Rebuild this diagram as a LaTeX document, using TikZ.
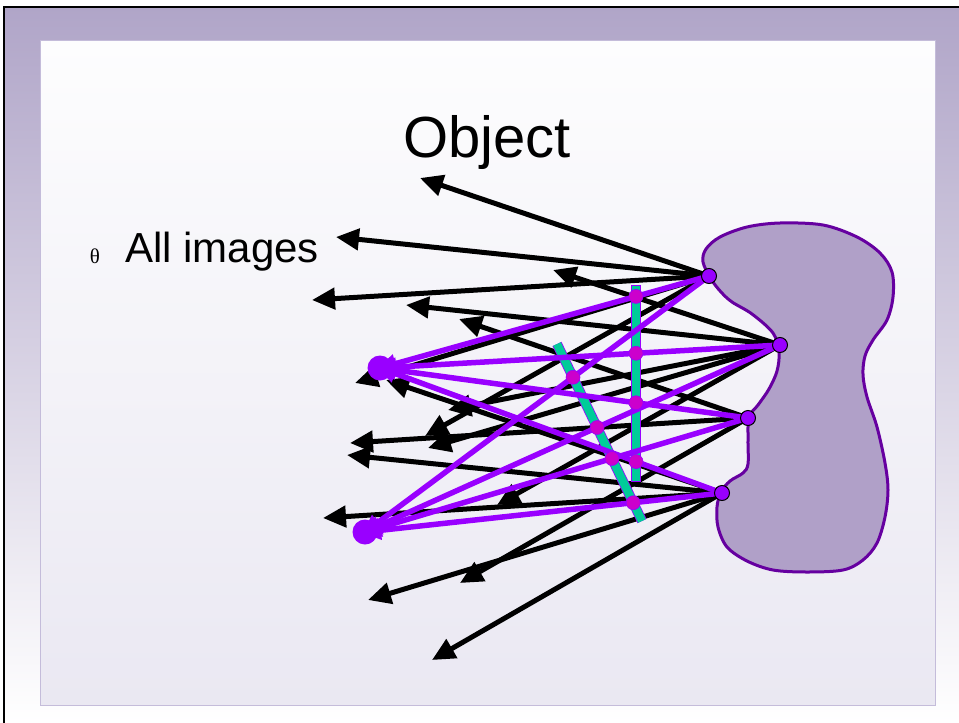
\documentclass[tikz,border=0pt]{standalone}
\usepackage{fontspec}
\setmainfont{Liberation Sans}
\newfontfamily\symfont{Liberation Serif}
\usetikzlibrary{arrows.meta}

\definecolor{bandtop}{RGB}{176,165,200}
\definecolor{paneltop}{RGB}{253,253,254}
\definecolor{panelbot}{RGB}{234,232,242}
\definecolor{panelline}{RGB}{196,188,218}
\definecolor{blobfill}{RGB}{176,160,200}
\definecolor{blobline}{RGB}{102,0,160}
\definecolor{ray}{RGB}{153,0,255}
\definecolor{lens}{RGB}{0,204,153}
\definecolor{hit}{RGB}{204,0,204}

\tikzset{
  blackray/.style={draw=black, line width=5pt, -{Triangle[length=23pt,width=21pt]}},
  purpleray/.style={draw=ray, line width=5.5pt, -{Triangle[length=20pt,width=18pt]}, shorten >=-4pt},
  srcdot/.style={circle, fill=ray, draw=black, line width=1pt, minimum size=15pt, inner sep=0pt},
  imgdot/.style={circle, fill=ray, minimum size=25pt, inner sep=0pt},
  hitdot/.style={circle, fill=hit, draw=ray, line width=0.6pt, minimum size=14pt, inner sep=0pt},
}

\begin{document}
\begin{tikzpicture}[x=1pt, y=-1pt]
  % page background and frame
  \useasboundingbox (0,0) rectangle (959,723);
  \fill[white] (0,0) rectangle (959,723);
  \shade[top color=bandtop, bottom color=white] (4,7) rectangle (959,723);
  \draw[black, line width=2.5pt] (4,723) -- (4,7) -- (959,7);
  \shade[top color=paneltop, bottom color=panelbot, draw=panelline, line width=1pt]
    (40,40) rectangle (935,705);

  % the object
  \draw[blobline, fill=blobfill, line width=3pt] plot[smooth cycle, tension=0.55] coordinates {
    (711,279) (703,262) (706,249) (720,237) (747,227) (780,223) (823,225)
    (857,237) (880,253) (892,272) (893,297) (887,320) (873,340) (865,356)
    (863,375) (867,397) (877,427) (885,463) (888,490) (885,517) (877,543)
    (863,560) (843,570) (807,572) (773,570) (747,561) (727,547) (718,527)
    (717,507) (721,492) (730,481) (743,473) (748,464) (748,440) (749,417)
    (758,405) (769,389) (777,371) (779,352) (773,333) (752,314) (732,302)
    (721,292)};

  % labels
  \node[font=\fontsize{58}{60}\selectfont, anchor=base] (title) at (487,157) {Object};
  \node[font=\symfont\fontsize{21}{22}\selectfont, anchor=base] (bullet) at (95,263) {θ};
  \node[font=\fontsize{42}{44}\selectfont, anchor=base west, inner sep=0pt] (caption) at (125,262) {All images};

  % object points and image points
  \coordinate (P1) at (709,276);
  \coordinate (P2) at (780,345);
  \coordinate (P3) at (748,418);
  \coordinate (P4) at (722,493);
  \coordinate (I1) at (380,368);
  \coordinate (I2) at (365,532);

  % free ends of the scattered rays
  \coordinate (a1) at (420,178);
  \coordinate (a2) at (336,237);
  \coordinate (a3) at (312,300);
  \coordinate (a4) at (355,383);
  \coordinate (a5) at (425,436);
  \coordinate (b1) at (553,270);
  \coordinate (b2) at (406,305);
  \coordinate (b3) at (428,448);
  \coordinate (b4) at (497,505);
  \coordinate (b5) at (448,410);
  \coordinate (c1) at (459,319);
  \coordinate (c3) at (350,443);
  \coordinate (c4) at (460,583);
  \coordinate (d1) at (386,380);
  \coordinate (d2) at (347,455);
  \coordinate (d3) at (323,518);
  \coordinate (d4) at (368,600);
  \coordinate (d5) at (432,660);

  % scattered rays
  \foreach \e in {a1,a2,a3,a4,a5} \draw[blackray] (P1) -- (\e);
  \foreach \e in {b1,b2,b3,b4,b5} \draw[blackray] (P2) -- (\e);
  \foreach \e in {c1,c3,c4} \draw[blackray] (P3) -- (\e);
  \foreach \e in {d1,d2,d3,d4,d5} \draw[blackray] (P4) -- (\e);

  % lens elements
  \coordinate (V1) at (636,285);
  \coordinate (V2) at (636,481);
  \coordinate (S1) at (557,344);
  \coordinate (S2) at (642,521);
  \draw[draw=ray, fill=lens, line width=0.8pt] (631.5,285) rectangle (640.5,481);
  \draw[draw=ray, line width=10pt] (S1) -- (S2);
  \draw[draw=lens, line width=8.4pt] (S1) -- (S2);

  % focused rays
  \foreach \s in {P1,P2,P3,P4} {
    \draw[purpleray] (\s) -- (I1);
    \draw[purpleray] (\s) -- (I2);
  }

  % ray crossings with the lens
  \node[hitdot] (h1) at (intersection of P1--I1 and V1--V2) {};
  \node[hitdot] (h2) at (intersection of P2--I1 and V1--V2) {};
  \node[hitdot] (h3) at (intersection of P3--I1 and V1--V2) {};
  \node[hitdot] (h4) at (intersection of P4--I1 and V1--V2) {};
  \node[hitdot] (h5) at (intersection of P1--I2 and S1--S2) {};
  \node[hitdot] (h6) at (intersection of P2--I2 and S1--S2) {};
  \node[hitdot] (h7) at (intersection of P3--I2 and S1--S2) {};
  \node[hitdot] (h8) at (intersection of P4--I2 and S1--S2) {};

  % dots
  \node[imgdot] (i1) at (I1) {};
  \node[imgdot] (i2) at (I2) {};
  \foreach \s in {P1,P2,P3,P4} \node[srcdot] at (\s) {};
\end{tikzpicture}
\end{document}
